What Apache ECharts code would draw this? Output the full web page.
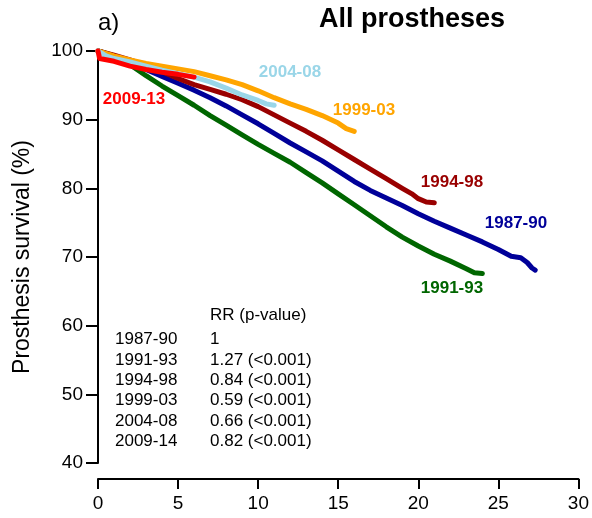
<!DOCTYPE html>
<html>
<head>
<meta charset="utf-8">
<script src="https://cdn.jsdelivr.net/npm/echarts@6/dist/echarts.min.js"></script>
<style>
  html, body { margin: 0; padding: 0; background: #fff; }
  #chart { width: 592px; height: 518px; }
</style>
</head>
<body>
<div id="chart"></div>
<script>
// Kaplan-Meier style prosthesis survival by period of surgery (years since operation)
const years8790 = [0, 1, 2, 3, 4, 5, 6, 7, 8, 9, 10, 11, 12, 13, 14, 15, 16, 17, 18, 19, 20, 21, 22, 23, 24, 25, 25.8, 26.4, 26.8, 27.1, 27.3];
const surv8790  = [100, 99.3, 98.4, 97.3, 96.3, 95.3, 94.3, 93.2, 92.0, 90.7, 89.4, 88.0, 86.6, 85.3, 84.0, 82.5, 81.0, 79.7, 78.6, 77.5, 76.3, 75.2, 74.2, 73.2, 72.2, 71.1, 70.1, 69.9, 69.2, 68.4, 68.1];

const years9193 = [0, 1, 2, 3, 4, 5, 6, 7, 8, 9, 10, 11, 12, 13, 14, 15, 16, 17, 18, 19, 20, 21, 22, 23, 23.5, 24];
const surv9193  = [100, 99.3, 98.0, 96.4, 94.9, 93.5, 92.1, 90.6, 89.2, 87.8, 86.4, 85.1, 83.8, 82.3, 80.8, 79.2, 77.6, 76.0, 74.4, 72.9, 71.6, 70.4, 69.4, 68.3, 67.7, 67.6];

const years9498 = [0, 1, 2, 3, 4, 5, 6, 7, 8, 9, 10, 11, 12, 13, 14, 15, 16, 17, 18, 19, 19.6, 20, 20.5, 21];
const surv9498  = [100, 99.4, 98.7, 97.9, 97.0, 96.0, 95.1, 94.4, 93.7, 92.9, 91.9, 90.7, 89.5, 88.3, 87.0, 85.6, 84.2, 82.8, 81.4, 80.0, 79.2, 78.5, 78.0, 77.9];

const years9903 = [0, 1, 2, 3, 4, 5, 6, 7, 8, 9, 10, 11, 12, 13, 14, 15, 15.5, 16];
const surv9903  = [100, 99.3, 98.7, 98.2, 97.8, 97.4, 97.0, 96.4, 95.8, 95.1, 94.2, 93.2, 92.3, 91.5, 90.6, 89.5, 88.7, 88.3];

const years0408 = [0, 0.5, 1, 2, 3, 4, 5, 6, 7, 8, 9, 10, 10.5, 11];
const surv0408  = [100, 99.3, 98.9, 98.4, 97.8, 97.2, 96.7, 96.2, 95.5, 94.6, 93.6, 92.8, 92.3, 92.1];

const years0913 = [0, 0.1, 1, 2, 3, 4, 5, 6];
const surv0913  = [100, 98.9, 98.5, 97.8, 97.3, 96.9, 96.6, 96.2];

// Axis ticks
const xTicks = [0, 5, 10, 15, 20, 25, 30];
const yTicks = [40, 50, 60, 70, 80, 90, 100];

// Rate ratio table
const periodsRR = ['1987-90', '1991-93', '1994-98', '1999-03', '2004-08', '2009-14'];
const rrValues  = ['1', '1.27 (<0.001)', '0.84 (<0.001)', '0.59 (<0.001)', '0.66 (<0.001)', '0.82 (<0.001)'];

const FONT = '"Liberation Sans", Arial, Helvetica, sans-serif';

function pairs(xs, ys) { return xs.map((x, i) => [x, ys[i]]); }

const curves = [
  { name: '1987-90', x: years8790, y: surv8790, color: '#000099' },
  { name: '1991-93', x: years9193, y: surv9193, color: '#006600' },
  { name: '1994-98', x: years9498, y: surv9498, color: '#990000' },
  { name: '1999-03', x: years9903, y: surv9903, color: '#FFA500' },
  { name: '2004-08', x: years0408, y: surv0408, color: '#9AD6E8' },
  { name: '2009-13', x: years0913, y: surv0913, color: '#FF0000' }
];

// Curve labels (pixel anchors of each label's centre)
const curveLabels = [
  { text: '2004-08', x: 290, y: 72,  color: '#9AD6E8' },
  { text: '1999-03', x: 364, y: 110, color: '#FFA500' },
  { text: '2009-13', x: 134, y: 99,  color: '#FF0000' },
  { text: '1994-98', x: 452, y: 182, color: '#990000' },
  { text: '1987-90', x: 516, y: 223, color: '#000099' },
  { text: '1991-93', x: 452, y: 288, color: '#006600' }
];

const graphics = [];
graphics.push({ type: 'text', x: 98, y: 23, style: { text: 'a)', font: '24px ' + FONT, fill: '#000', align: 'left', verticalAlign: 'middle' } });
graphics.push({ type: 'text', x: 412, y: 20, style: { text: 'All prostheses', font: 'bold 27px ' + FONT, fill: '#000', align: 'center', verticalAlign: 'middle' } });
curveLabels.forEach(l => {
  graphics.push({ type: 'text', x: l.x, y: l.y, style: { text: l.text, font: 'bold 17px ' + FONT, fill: l.color, align: 'center', verticalAlign: 'middle' } });
});
graphics.push({ type: 'text', x: 210, y: 315, style: { text: 'RR (p-value)', font: '17px ' + FONT, fill: '#000', align: 'left', verticalAlign: 'middle' } });
periodsRR.forEach((p, i) => {
  const y = 339.5 + i * 20.4;
  graphics.push({ type: 'text', x: 115, y: y, style: { text: p, font: '17px ' + FONT, fill: '#000', align: 'left', verticalAlign: 'middle' } });
  graphics.push({ type: 'text', x: 210, y: y, style: { text: rrValues[i], font: '17px ' + FONT, fill: '#000', align: 'left', verticalAlign: 'middle' } });
});

const chart = echarts.init(document.getElementById('chart'), null, { renderer: 'canvas' });
chart.setOption({
  animation: false,
  backgroundColor: '#fff',
  grid: { left: 98, right: 13, top: 51, bottom: 55, containLabel: false },
  xAxis: {
    type: 'value', min: 0, max: 30, interval: 5, offset: 16,
    axisLine: { show: true, lineStyle: { color: '#000', width: 2 } },
    axisTick: { show: true, length: 10, lineStyle: { color: '#000', width: 2 } },
    axisLabel: { margin: 15, fontSize: 19, color: '#000', fontFamily: FONT,
      formatter: v => xTicks.includes(v) ? String(v) : '' },
    splitLine: { show: false }
  },
  yAxis: {
    type: 'value', min: 40, max: 100, interval: 10,
    name: 'Prosthesis survival (%)', nameLocation: 'middle', nameGap: 64,
    nameTextStyle: { fontSize: 23, color: '#000', fontFamily: FONT },
    axisLine: { show: true, lineStyle: { color: '#000', width: 2 } },
    axisTick: { show: true, length: 12, lineStyle: { color: '#000', width: 2 } },
    axisLabel: { margin: 15, fontSize: 19, color: '#000', fontFamily: FONT,
      formatter: v => yTicks.includes(v) ? String(v) : '' },
    splitLine: { show: false }
  },
  series: curves.map(c => ({
    type: 'line', name: c.name, data: pairs(c.x, c.y),
    showSymbol: false, symbol: 'none', smooth: false, clip: false,
    lineStyle: { color: c.color, width: 5, cap: 'round', join: 'round' },
    itemStyle: { color: c.color },
    emphasis: { disabled: true }
  })),
  graphic: graphics
});
</script>
</body>
</html>
